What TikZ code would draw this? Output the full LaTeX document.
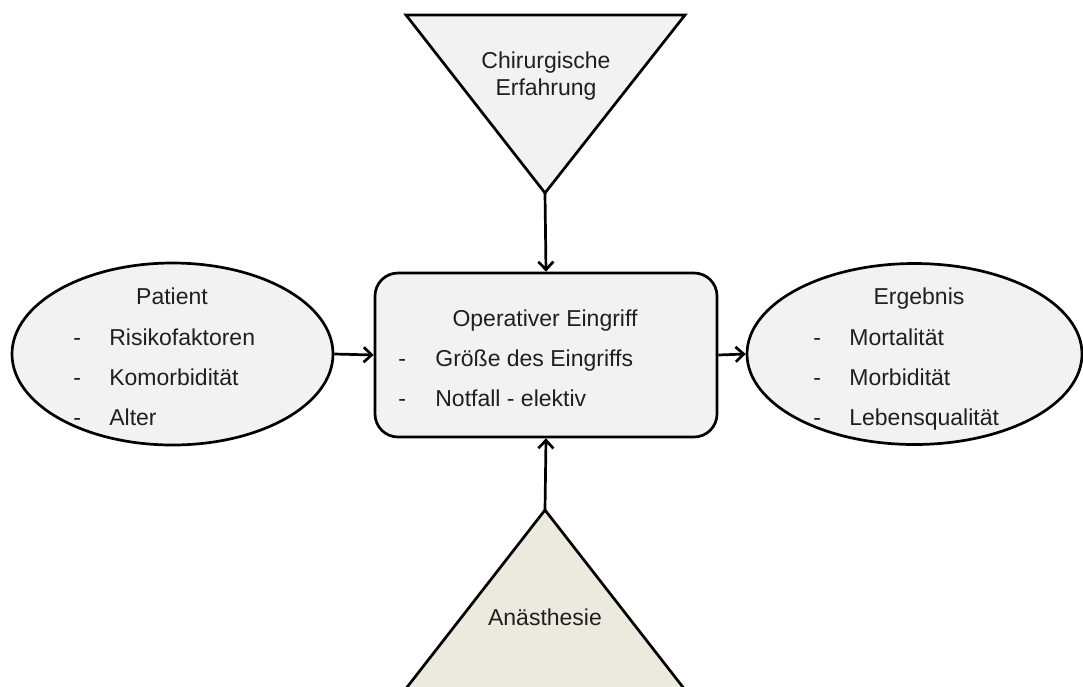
\documentclass[tikz,border=0pt]{standalone}
\usepackage{fontspec}
\setmainfont{Liberation Sans}
\usetikzlibrary{arrows.meta}
\usetikzlibrary{shapes.geometric}
\usetikzlibrary{positioning}

\definecolor{boxgray}{HTML}{F2F2F2}
\definecolor{sand}{HTML}{ECEADF}

\begin{document}
\begin{tikzpicture}[->, >={Straight Barb[length=8pt,width=15pt]}, line width=2.7pt, x=1pt, y=-1pt,
    every node/.style={font=\fontsize{23}{27}\selectfont, text=black!88, inner sep=0pt},
    oval/.style={-, ellipse, draw, fill=boxgray},
    op/.style={-, rectangle, rounded corners=23pt, draw, fill=boxgray,
               minimum width=342pt, minimum height=164pt},
    tri/.style={-, draw, line join=miter},
    txt/.style={anchor=base},
    item/.style={anchor=base west}]

    \useasboundingbox (0,0) rectangle (1083,686);
    \clip (0,0) rectangle (1083,686);

    % Nodes

    \node[op]                                          (eingriff) at (546,355) {} ; %
    \node[oval, minimum width=321pt, minimum height=182pt] (patient)  at (172.5,354) {} ; %
    \node[oval, minimum width=335pt, minimum height=181pt] (ergebnis) at (914.5,354) {} ; %

    \draw[tri, fill=boxgray] (406,15) -- (685,15) -- (545,193) -- cycle;
    \coordinate (erfTip) at (545,193);
    \draw[tri, fill=sand] (545,510) -- (708.5,720) -- (381.5,720) -- cycle;
    \coordinate (anaTip) at (545,510);

    % Texts

    \node[txt] (erf1) at (546,68) {Chirurgische};
    \node[txt] (erf2) at (546,95) {Erfahrung};
    \node[txt] (ana)  at (545,625) {Anästhesie};

    \node[txt]  (opT)  at (545,326) {Operativer Eingriff};
    \node[item] (opD1) at (397,366) {-};
    \node[item] (opI1) at (434,366) {Größe des Eingriffs};
    \node[item] (opD2) at (397,406) {-};
    \node[item] (opI2) at (434,406) {Notfall - elektiv};

    \node[txt]  (patT)  at (172,304) {Patient};
    \node[item] (patD1) at (72,345) {-};
    \node[item] (patI1) at (108,345) {Risikofaktoren};
    \node[item] (patD2) at (72,385) {-};
    \node[item] (patI2) at (108,385) {Komorbidität};
    \node[item] (patD3) at (72,425) {-};
    \node[item] (patI3) at (108,425) {Alter};

    \node[txt]  (ergT)  at (919,304) {Ergebnis};
    \node[item] (ergD1) at (812,345) {-};
    \node[item] (ergI1) at (848,345) {Mortalität};
    \node[item] (ergD2) at (812,385) {-};
    \node[item] (ergI2) at (848,385) {Morbidität};
    \node[item] (ergD3) at (812,425) {-};
    \node[item] (ergI3) at (848,425) {Lebensqualität};

    % Edges

    \draw (erfTip) -- (eingriff.north);
    \draw (anaTip) -- (eingriff.south);
    \draw (patient.east) -- (eingriff.west);
    \draw (eingriff.east) -- (ergebnis.west);

\end{tikzpicture}
\end{document}
